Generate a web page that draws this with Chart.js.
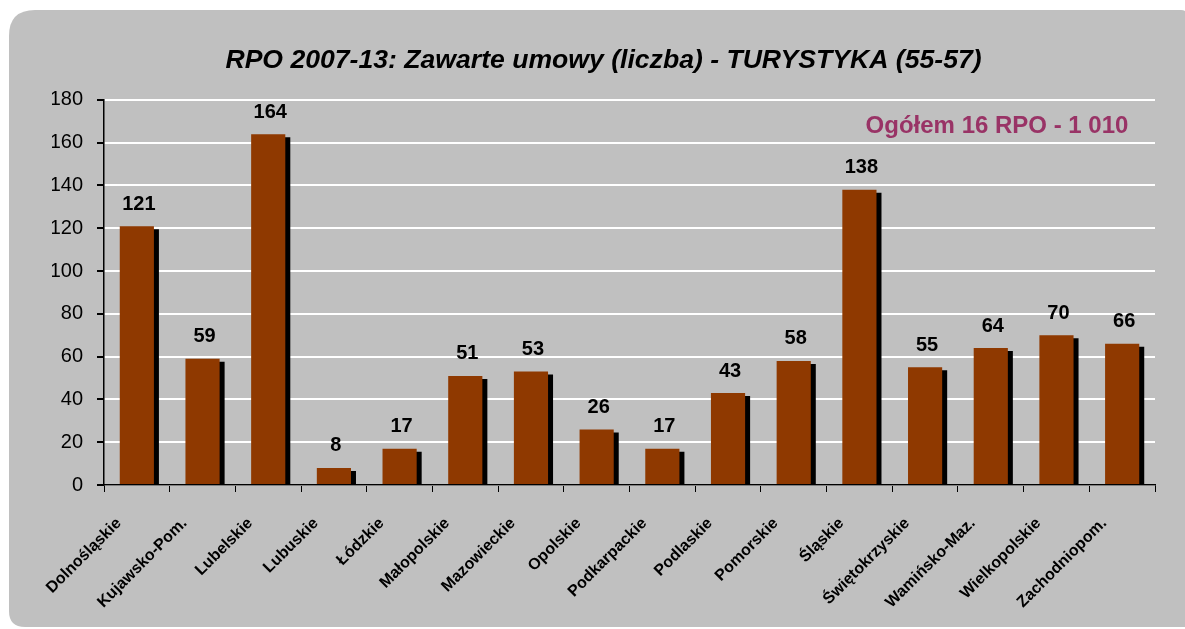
<!DOCTYPE html>
<html>
<head>
<meta charset="utf-8">
<script src="https://cdn.jsdelivr.net/npm/chart.js@4.4.1/dist/chart.umd.min.js"></script>
<style>
html,body{margin:0;padding:0;background:#ffffff;}
#wrap{position:absolute;left:0;top:0;width:1185px;height:629px;}
</style>
</head>
<body>
<div id="wrap"><canvas id="c" width="1185" height="629"></canvas></div>
<script>
const categories = ["Dolnośląskie","Kujawsko-Pom.","Lubelskie","Lubuskie","Łódzkie","Małopolskie","Mazowieckie","Opolskie","Podkarpackie","Podlaskie","Pomorskie","Śląskie","Świętokrzyskie","Wamińsko-Maz.","Wielkopolskie","Zachodniopom."];
const values = [121,59,164,8,17,51,53,26,17,43,58,138,55,64,70,66];
const yTicks = [0,20,40,60,80,100,120,140,160,180];
const titleText = "RPO 2007-13: Zawarte umowy (liczba) - TURYSTYKA (55-57)";
const noteText = "Ogółem 16 RPO - 1 010";

const FONT = "'Liberation Sans', Arial, sans-serif";

const bgPlugin = {
  id: 'bg',
  beforeDraw(chart) {
    const ctx = chart.ctx;
    ctx.save();
    ctx.fillStyle = '#c0c0c0';
    const x = 9, y = 10, w = 1185 - 9 + 2, h = 627 - 10;
    ctx.beginPath();
    ctx.moveTo(x + 26, y);
    ctx.lineTo(x + w - 6, y);
    ctx.quadraticCurveTo(x + w, y, x + w, y + 6);
    ctx.lineTo(x + w, y + h);
    ctx.lineTo(x + 16, y + h);
    ctx.quadraticCurveTo(x, y + h, x, y + h - 16);
    ctx.lineTo(x, y + 26);
    ctx.quadraticCurveTo(x, y, x + 26, y);
    ctx.closePath();
    ctx.fill();
    ctx.restore();
  }
};

const shadowPlugin = {
  id: 'shadow',
  beforeDatasetDraw(chart) {
    const ctx = chart.ctx;
    ctx.save();
    ctx.shadowColor = '#000000';
    ctx.shadowOffsetX = 5;
    ctx.shadowOffsetY = 3;
    ctx.shadowBlur = 0;
  },
  afterDatasetDraw(chart) {
    chart.ctx.restore();
  }
};

const labelPlugin = {
  id: 'labels',
  afterDatasetsDraw(chart) {
    const ctx = chart.ctx;
    const meta = chart.getDatasetMeta(0);
    ctx.save();
    ctx.fillStyle = '#000000';
    ctx.font = "bold 20px " + FONT;
    ctx.textAlign = 'center';
    ctx.textBaseline = 'middle';
    meta.data.forEach((bar, i) => {
      ctx.fillText(String(chart.data.datasets[0].data[i]), bar.x + 2, bar.y - 22);
    });
    ctx.font = "bold 24px " + FONT;
    ctx.fillStyle = '#993366';
    ctx.textAlign = 'center';
    ctx.fillText(noteText, 997, 126);
    ctx.restore();
  }
};

new Chart(document.getElementById('c'), {
  type: 'bar',
  data: {
    labels: categories,
    datasets: [{
      data: values,
      backgroundColor: '#8f3900',
      borderWidth: 0,
      categoryPercentage: 1.0,
      barPercentage: 0.52
    }]
  },
  options: {
    responsive: false,
    animation: false,
    events: [],
    layout: { padding: { left: 52, right: 30, top: 0, bottom: 0 } },
    plugins: {
      legend: { display: false },
      tooltip: { enabled: false },
      title: {
        display: true,
        text: titleText,
        color: '#000000',
        font: { family: FONT, size: 26.6, weight: 'bold', style: 'italic', lineHeight: 1.2 },
        padding: { top: 45, bottom: 23 }
      }
    },
    scales: {
      x: {
        afterFit(scale) { scale.height = 144; },
        grid: { display: true, drawOnChartArea: false, drawTicks: true, tickLength: 7, offset: true, color: '#000000', tickColor: '#000000' },
        border: { display: true, color: '#000000', width: 1.5 },
        ticks: {
          color: '#000000',
          font: { family: FONT, size: 16, weight: 'bold' },
          maxRotation: 45, minRotation: 45,
          autoSkip: false,
          padding: 22,
          labelOffset: -18
        }
      },
      y: {
        min: 0, max: 180,
        afterFit(scale) { scale.width = 52; },
        afterBuildTicks(scale) { scale.ticks = yTicks.map(v => ({ value: v })); },
        grid: { color: '#ffffff', lineWidth: 2, tickColor: '#000000', tickLength: 7, drawTicks: true },
        border: { display: true, color: '#000000', width: 1.5 },
        ticks: {
          color: '#000000',
          font: { family: FONT, size: 20 },
          padding: 14
        }
      }
    }
  },
  plugins: [bgPlugin, shadowPlugin, labelPlugin]
});
</script>
</body>
</html>
